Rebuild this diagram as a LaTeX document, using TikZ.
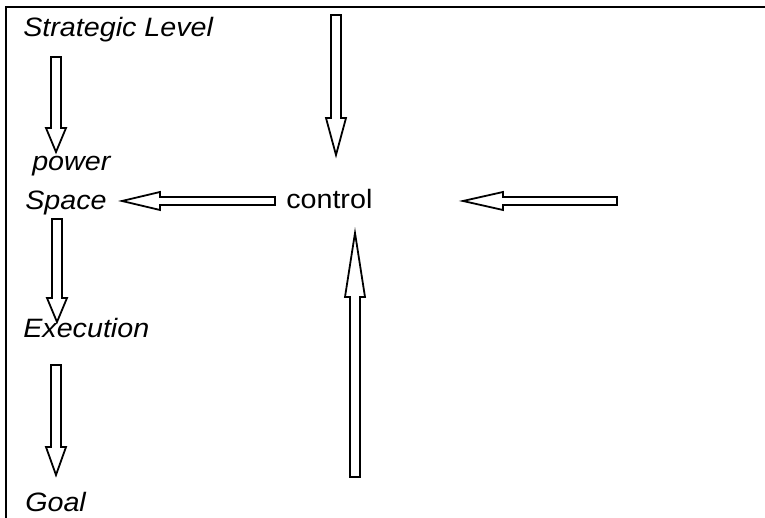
\documentclass[tikz,border=0pt]{standalone}
\usepackage{fontspec}
\setmainfont[FakeStretch=1.08]{Liberation Sans}

% hollow block arrows: #1 axis, #2 tail, #3 head base, #4 tip
\newcommand{\vblock}[4]{%
  \draw[blockarrow] (#1-0.05,#2) -- (#1-0.05,#3) -- (#1-0.10,#3) -- (#1,#4)
    -- (#1+0.10,#3) -- (#1+0.05,#3) -- (#1+0.05,#2) -- cycle;}
\newcommand{\hblock}[4]{%
  \draw[blockarrow] (#2,#1-0.04) -- (#3,#1-0.04) -- (#3,#1-0.09) -- (#4,#1)
    -- (#3,#1+0.09) -- (#3,#1+0.04) -- (#2,#1+0.04) -- cycle;}

\tikzset{
  blockarrow/.style={line width=1.35pt, line join=miter, fill=white},
  lbl/.style={font=\fontsize{20}{24}\selectfont\itshape, anchor=base west, inner sep=0pt},
}

\begin{document}
\begin{tikzpicture}[scale=2.6458]
  \useasboundingbox (0,0) rectangle (7.65,5.18);
  % frame
  \draw[line width=2pt] (0.06,0) -- (0.06,5.11) -- (7.65,5.11);
  % labels
  \node[lbl] (strat) at (0.23,4.81) {Strategic Level};
  \node[lbl] (power) at (0.32,3.47) {power};
  \node[lbl] (space) at (0.25,3.08) {Space};
  \node[lbl, font=\fontsize{20}{24}\selectfont] (control) at (2.86,3.09) {control};
  \node[lbl] (exec) at (0.23,1.80) {Execution};
  \node[lbl] (goal) at (0.25,0.06) {Goal};
  % arrows down the left column
  \vblock{0.56}{4.61}{3.90}{3.66}
  \vblock{0.57}{2.99}{2.20}{1.96}
  \vblock{0.56}{1.53}{0.71}{0.43}
  % arrows round control
  \hblock{3.17}{2.75}{1.60}{1.22}
  \vblock{3.36}{5.03}{4.00}{3.63}
  \vblock{3.55}{0.41}{2.21}{2.85}
  \hblock{3.17}{6.17}{5.03}{4.63}
\end{tikzpicture}
\end{document}
